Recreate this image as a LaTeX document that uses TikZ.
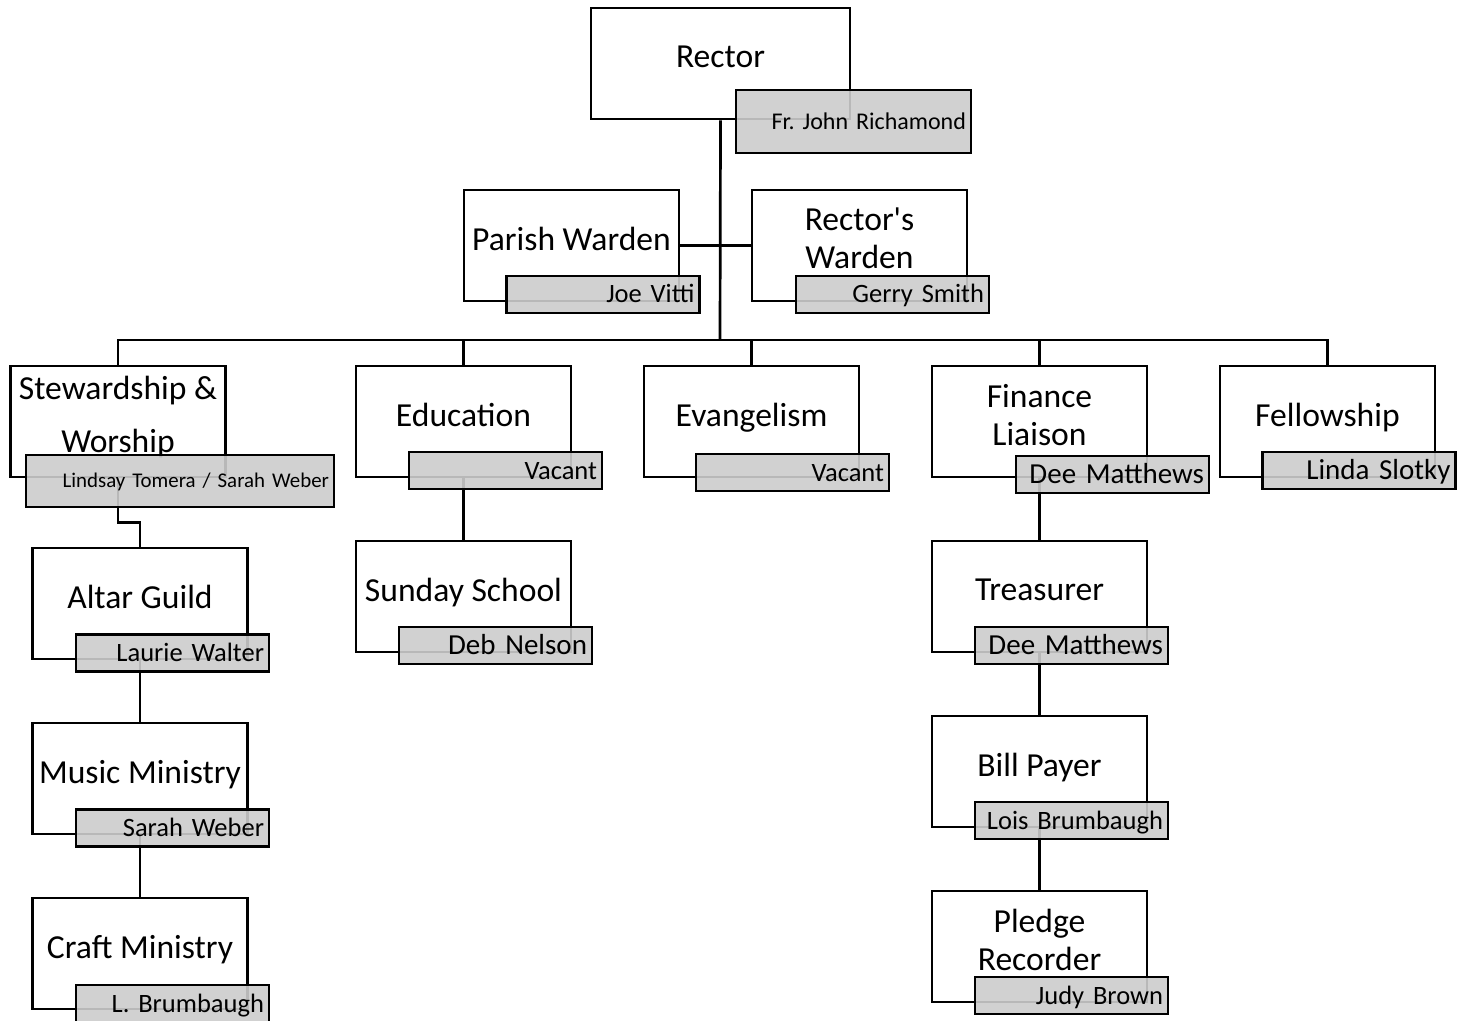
\documentclass[tikz,border=0pt]{standalone}
\usepackage{fontspec}
\setmainfont{Carlito}[Ligatures=TeXOff]
\begin{document}
\frenchspacing
\begin{tikzpicture}[x=0.5pt,y=-0.5pt,line width=1.35pt,
	office/.style={draw,fill=white,minimum width=107.5pt,minimum height=55.5pt,inner sep=0pt,align=center,text depth=7pt,font=\fontsize{16.8}{19}\selectfont},
	holder/.style={draw,fill=black!20,fill opacity=.9,text opacity=1,minimum height=18.5pt,text width=91.5pt,inner xsep=2.5pt,inner ysep=0pt,align=right,text height=8.5pt,text depth=0pt,font=\fontsize{13.25}{15}\selectfont}]
		\useasboundingbox (0,0) rectangle (1471,1021);
		%offices
		\node[office,minimum width=129.5pt] (rector) at (720.5,63.5) {Rector};
		\node[office] (parish) at (571.5,245.5) {Parish Warden};
		\node[office] (rwarden) at (859.5,245.5) {Rector's\\Warden};
		\node[office,font=\fontsize{16.8}{26.5}\selectfont] (stew) at (118,421.5) {Stewardship \&\\Worship};
		\node[office] (edu) at (463.5,421.5) {Education};
		\node[office] (evan) at (751.5,421.5) {Evangelism};
		\node[office] (fin) at (1039.5,421.5) {Finance\\Liaison};
		\node[office] (fell) at (1327.5,421.5) {Fellowship};
		\node[office] (altar) at (140,603.5) {Altar Guild};
		\node[office] (music) at (140,778.5) {Music Ministry};
		\node[office] (craft) at (140,953.5) {Craft Ministry};
		\node[office] (sunday) at (463.5,596.5) {Sunday School};
		\node[office] (treas) at (1039.5,596.5) {Treasurer};
		\node[office] (bill) at (1039.5,771.5) {Bill Payer};
		\node[office] (pledge) at (1039.5,946.5) {Pledge\\Recorder};
		%lines
		\coordinate (bus) at (720,340);
		\draw (rector.south) -- (bus);
		\draw (parish.east) -- (rwarden.west);
		\foreach \n in {stew,edu,evan,fin,fell}
			\draw (\n.north) |- (bus);
		\draw (stew.south) -- ++(0,44) -| (altar.north);
		\draw (altar.south) -- (music.north);
		\draw (music.south) -- (craft.north);
		\draw (edu.south) -- (sunday.north);
		\draw (fin.south) -- (treas.north);
		\draw (treas.south) -- (bill.north);
		\draw (bill.south) -- (pledge.north);
		%names
		\node[holder,minimum height=31.5pt,text width=112.5pt,text height=7.7pt,font=\fontsize{12}{14}\selectfont] (rectorN) at (853.5,121.5) {Fr. John Richamond};
		\node[holder] (parishN) at (603,294.5) {Joe Vitti};
		\node[holder] (rwardenN) at (892.5,294.5) {Gerry Smith};
		\node[holder,minimum height=26pt,text width=149pt,text height=6.8pt,font=\fontsize{10.45}{13}\selectfont] (stewN) at (180,481) {Lindsay Tomera / Sarah Weber};
		\node[holder] (eduN) at (505.5,470.5) {Vacant};
		\node[holder] (evanN) at (792.5,472.5) {Vacant};
		\node[holder,text height=9.3pt,font=\fontsize{14.5}{17}\selectfont] (finN) at (1112.5,474.5) {Dee Matthews};
		\node[holder,text height=9.3pt,font=\fontsize{14.5}{17}\selectfont] (fellN) at (1359,470.5) {Linda Slotky};
		\node[holder] (altarN) at (172.5,653) {Laurie Walter};
		\node[holder] (musicN) at (172.5,828) {Sarah Weber};
		\node[holder] (craftN) at (172.5,1003.5) {L. Brumbaugh};
		\node[holder,text height=9.3pt,font=\fontsize{14.5}{17}\selectfont] (sundayN) at (495.5,645.5) {Deb Nelson};
		\node[holder,text height=9.3pt,font=\fontsize{14.5}{17}\selectfont] (treasN) at (1071.5,645.5) {Dee Matthews};
		\node[holder] (billN) at (1071.5,820.5) {Lois Brumbaugh};
		\node[holder] (pledgeN) at (1071.5,995.5) {Judy Brown};
\end{tikzpicture}
\end{document}
